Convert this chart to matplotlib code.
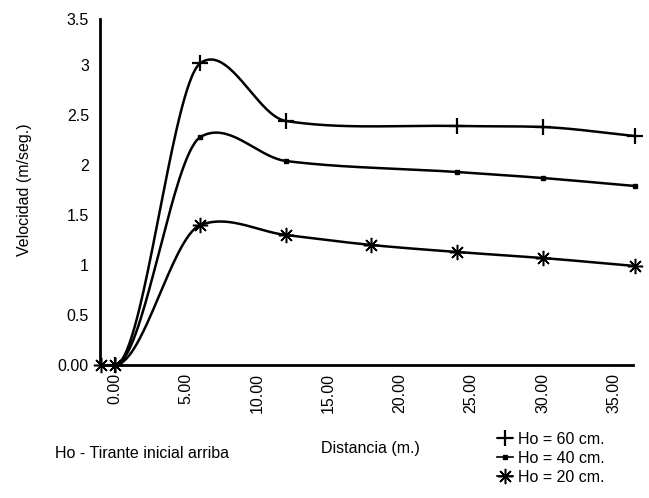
import matplotlib
matplotlib.use("Agg")
import matplotlib.pyplot as plt
import numpy as np

plt.rcParams["font.family"] = ["Liberation Sans", "DejaVu Sans"]
plt.rcParams["font.size"] = 11.5

# Velocidad (m/seg.) medida a lo largo del canal, para tres tirantes iniciales
x_60 = [0, 6, 12, 24, 30, 36.5]
v_60 = [0, 3.02, 2.44, 2.39, 2.38, 2.29]

x_40 = [0, 6, 12, 24, 30, 36.5]
v_40 = [0, 2.28, 2.04, 1.93, 1.87, 1.79]

x_20 = [-1.0, 0, 6, 12, 18, 24, 30, 36.5]
v_20 = [0, 0, 1.40, 1.30, 1.20, 1.13, 1.07, 0.99]

x_ticks = [0, 5, 10, 15, 20, 25, 30, 35]
x_tick_labels = ["0.00", "5.00", "10.00", "15.00", "20.00", "25.00", "30.00", "35.00"]
y_ticks = [0, 0.5, 1, 1.5, 2, 2.5, 3, 3.46]
y_tick_labels = ["0.00", "0.5", "1", "1.5", "2", "2.5", "3", "3.5"]


def smooth_curve(x, y, n=400):
    """Cubic Hermite through the points. Tangents are the mean of a
    shape-preserving (PCHIP) slope and the centred difference, which gives
    soft rounded peaks; the curve leaves the first point flat."""
    x = np.asarray(x, float)
    y = np.asarray(y, float)
    h = np.diff(x)
    d = np.diff(y) / h
    m = np.zeros(len(x))
    for i in range(1, len(x) - 1):
        pchip = 0.0
        if d[i - 1] * d[i] > 0:
            w1 = 2 * h[i] + h[i - 1]
            w2 = h[i] + 2 * h[i - 1]
            pchip = (w1 + w2) / (w1 / d[i - 1] + w2 / d[i])
        central = (y[i + 1] - y[i - 1]) / (x[i + 1] - x[i - 1])
        m[i] = 0.5 * (pchip + central)
    m[0] = 0.0
    m[-1] = d[-1]
    xs = np.linspace(x[0], x[-1], n)
    idx = np.clip(np.searchsorted(x, xs) - 1, 0, len(x) - 2)
    hh = h[idx]
    t = (xs - x[idx]) / hh
    h00 = 2 * t ** 3 - 3 * t ** 2 + 1
    h10 = t ** 3 - 2 * t ** 2 + t
    h01 = -2 * t ** 3 + 3 * t ** 2
    h11 = t ** 3 - t ** 2
    ys = h00 * y[idx] + h10 * hh * m[idx] + h01 * y[idx + 1] + h11 * hh * m[idx + 1]
    return xs, ys


fig = plt.figure(figsize=(6.49, 4.98), dpi=100)
ax = fig.add_axes([100 / 649, 1 - 365 / 498, 533 / 649, 346 / 498])

series = [
    (x_60, v_60, dict(marker="+", markersize=11, markeredgewidth=1.6), "Ho = 60 cm."),
    (x_40, v_40, dict(marker="s", markersize=3), "Ho = 40 cm."),
    (x_20, v_20, dict(marker=(8, 2, 0), markersize=11, markeredgewidth=1.1), "Ho = 20 cm."),
]

handles = []
for xs, vs, mstyle, label in series:
    xs = np.asarray(xs)
    vs = np.asarray(vs)
    curve = xs >= 0
    sx, sy = smooth_curve(xs[curve], vs[curve])
    ax.plot(sx, sy, color="black", lw=1.8, clip_on=False, solid_capstyle="round")
    ax.plot(xs, vs, ls="none", color="black", clip_on=False, zorder=3, **mstyle)
    h, = ax.plot([], [], color="black", lw=1.2, **mstyle)
    handles.append((h, label))

ax.set_xlim(-1.05, 36.35)
ax.set_ylim(0, 3.46)
ax.set_xticks(x_ticks)
ax.set_xticklabels(x_tick_labels, rotation=90)
ax.set_yticks(y_ticks)
ax.set_yticklabels(y_tick_labels)
ax.tick_params(length=0)
ax.tick_params(axis="x", pad=6)
ax.tick_params(axis="y", pad=8)

for side in ("top", "right"):
    ax.spines[side].set_visible(False)
for side in ("left", "bottom"):
    ax.spines[side].set_linewidth(2)

fig.text(25 / 649, 1 - 190 / 498, "Velocidad (m/seg.)", rotation=90,
         ha="center", va="center")
fig.text(370 / 649, 1 - 448 / 498, "Distancia (m.)", ha="center", va="center")
fig.text(55 / 649, 1 - 453 / 498, "Ho - Tirante inicial arriba", ha="left", va="center")

fig.legend([h for h, _ in handles], [l for _, l in handles],
           loc="upper left", bbox_to_anchor=(497 / 649, 1 - 432 / 498),
           frameon=False, borderpad=0, borderaxespad=0, labelspacing=0.25,
           handlelength=1.0, handletextpad=0.3)

fig.savefig("out.png", dpi=100)
